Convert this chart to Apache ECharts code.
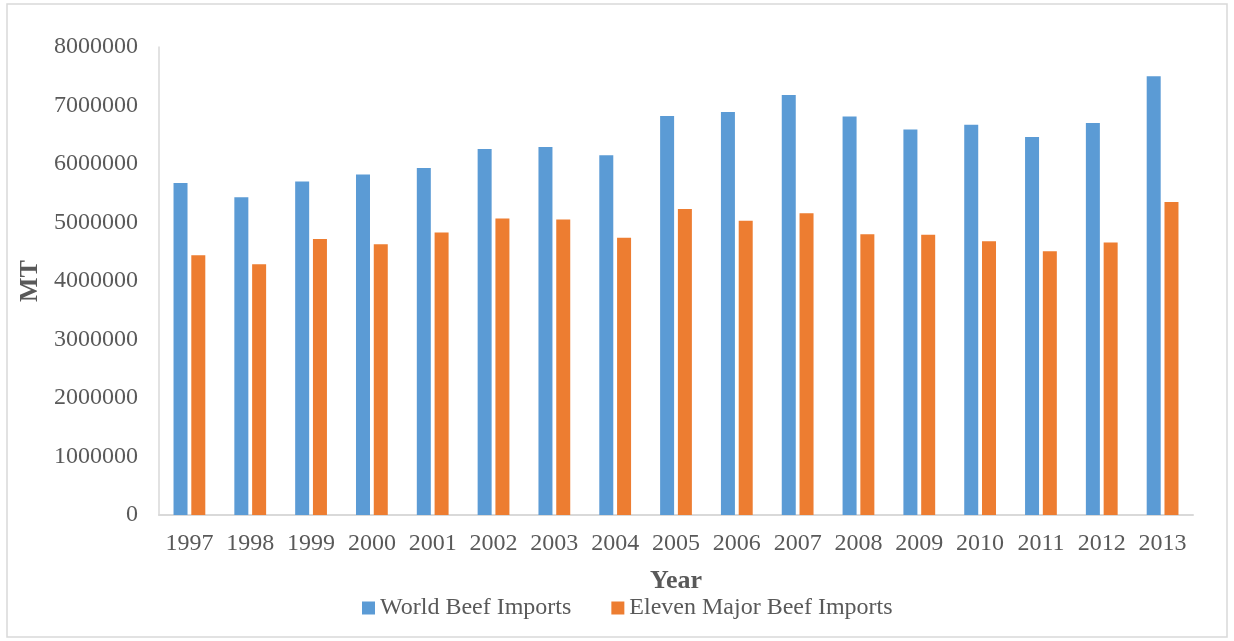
<!DOCTYPE html>
<html>
<head>
<meta charset="utf-8">
<script src="https://cdn.jsdelivr.net/npm/echarts@6/dist/echarts.min.js"></script>
<style>
  html, body { margin: 0; padding: 0; background: #fff; }
  #chart { width: 1234px; height: 641px; }
</style>
</head>
<body>
<div id="chart"></div>
<script>
// Annual beef imports, metric tonnes
const years = ['1997','1998','1999','2000','2001','2002','2003','2004','2005','2006','2007','2008','2009','2010','2011','2012','2013'];
const worldImports = [5675000, 5430000, 5700000, 5820000, 5930000, 6255000, 6290000, 6150000, 6820000, 6890000, 7180000, 6810000, 6590000, 6670000, 6460000, 6700000, 7500000];
const elevenMajorImports = [4440000, 4285000, 4720000, 4630000, 4830000, 5070000, 5050000, 4740000, 5230000, 5030000, 5160000, 4800000, 4790000, 4680000, 4510000, 4660000, 5350000];
const seriesNames = ['World Beef Imports', 'Eleven Major Beef Imports'];

const FONT = '"Liberation Serif", "Times New Roman", serif';
const TEXT = '#595959';
const AXIS = '#d9d9d9';

const chart = echarts.init(document.getElementById('chart'), null, { renderer: 'canvas' });

chart.setOption({
  animation: false,
  backgroundColor: '#fff',
  graphic: [{
    type: 'rect',
    shape: { x: 7, y: 4, width: 1220, height: 633 },
    style: { fill: 'none', stroke: AXIS, lineWidth: 1.5 },
    silent: true
  }],
  grid: { left: 159, right: 41, top: 47, bottom: 126 },
  legend: {
    data: seriesNames,
    left: 357,
    top: 591,
    itemWidth: 13,
    itemHeight: 13,
    itemGap: 40,
    icon: 'rect',
    textStyle: { fontFamily: FONT, fontSize: 24, color: TEXT }
  },
  xAxis: {
    type: 'category',
    data: years,
    name: 'Year',
    nameLocation: 'middle',
    nameGap: 53,
    nameTextStyle: { fontFamily: FONT, fontSize: 26, fontWeight: 'bold', color: TEXT },
    axisLine: { lineStyle: { color: AXIS, width: 2 } },
    axisTick: { show: false },
    axisLabel: { fontFamily: FONT, fontSize: 24, color: TEXT, margin: 17, interval: 0 }
  },
  yAxis: {
    type: 'value',
    min: 0,
    max: 8000000,
    interval: 1000000,
    name: 'MT',
    nameLocation: 'middle',
    nameRotate: 90,
    nameGap: 97,
    nameTextStyle: { fontFamily: FONT, fontSize: 26, fontWeight: 'bold', color: TEXT },
    axisLine: { show: true, lineStyle: { color: AXIS, width: 1.5 } },
    axisTick: { show: false },
    splitLine: { show: false },
    axisLabel: { fontFamily: FONT, fontSize: 24, color: TEXT, margin: 21, formatter: v => String(v) }
  },
  series: [
    {
      name: seriesNames[0],
      type: 'bar',
      data: worldImports,
      barWidth: 14,
      barGap: '27%',
      itemStyle: { color: '#5B9BD5' }
    },
    {
      name: seriesNames[1],
      type: 'bar',
      data: elevenMajorImports,
      barWidth: 14,
      barGap: '27%',
      itemStyle: { color: '#ED7D31' }
    }
  ]
});
</script>
</body>
</html>
